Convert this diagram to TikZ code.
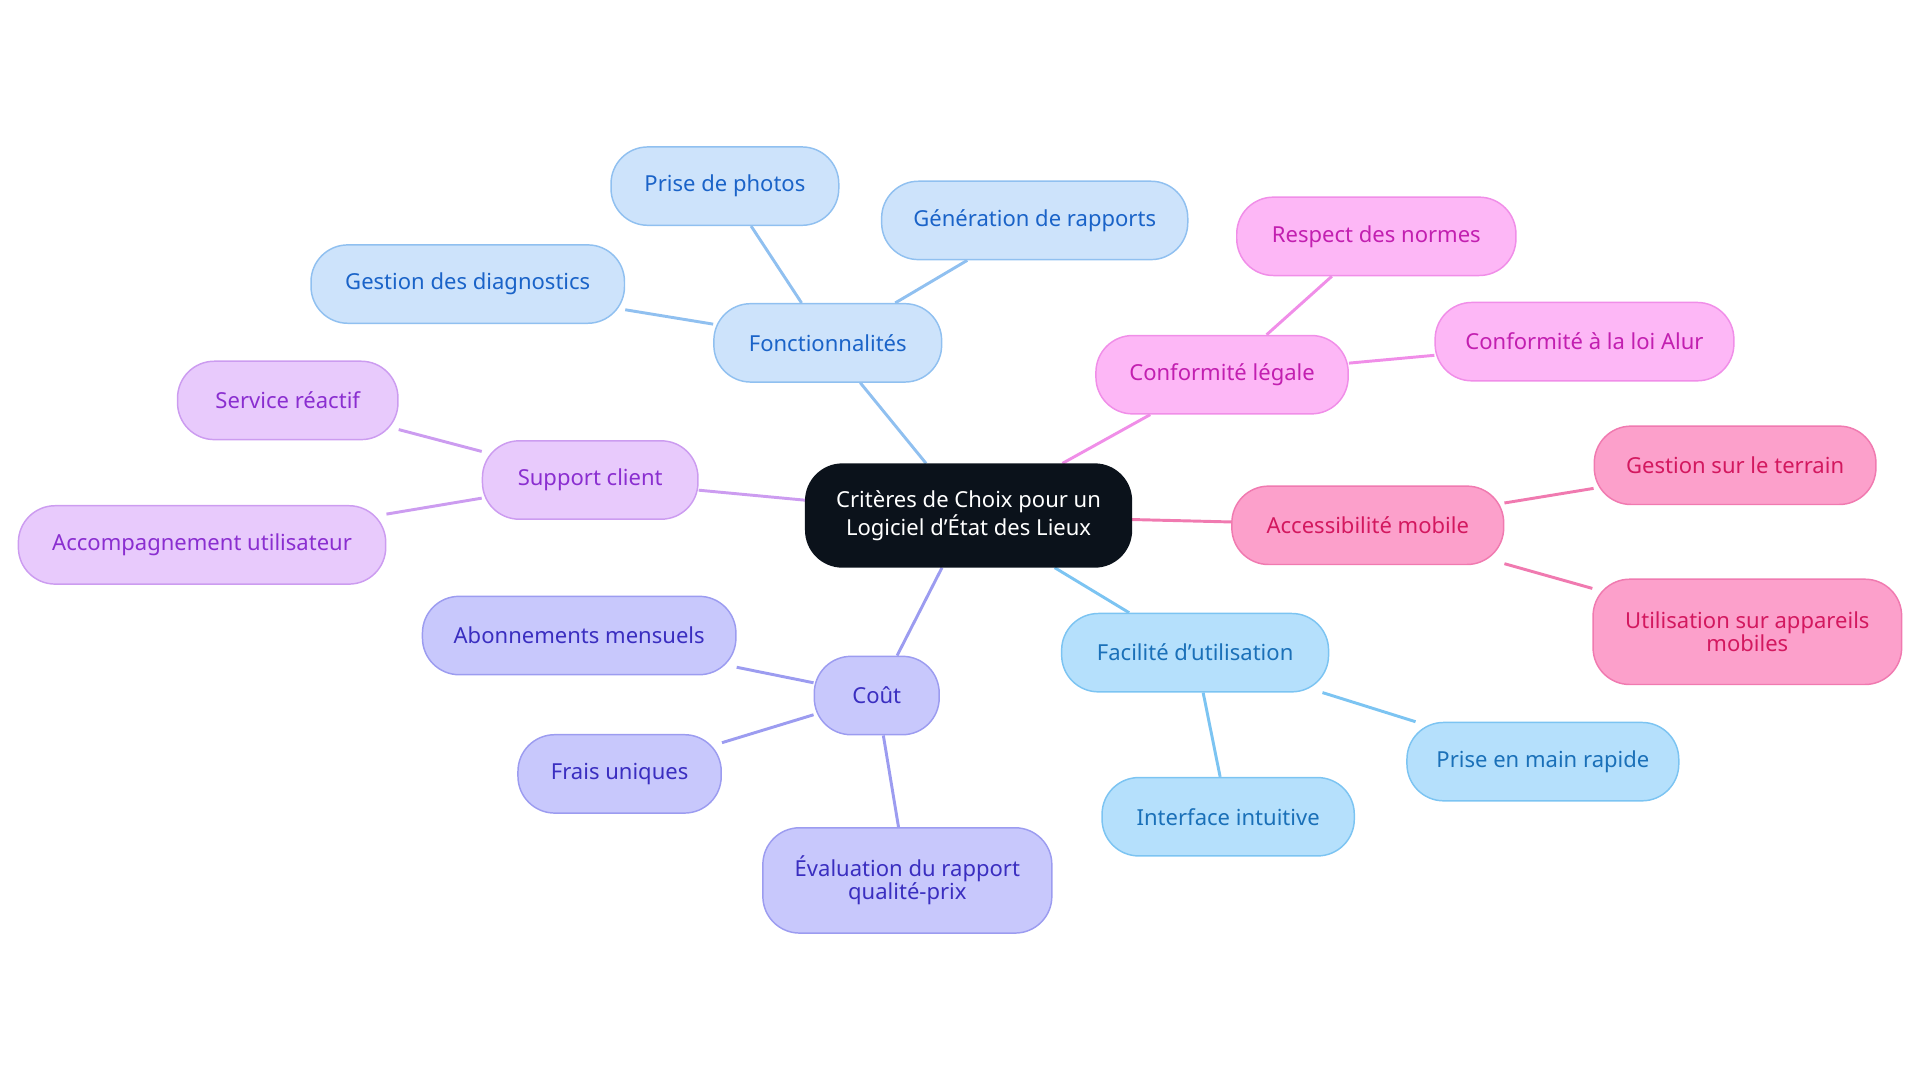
\documentclass[tikz,border=0pt]{standalone}
\usepackage{fontspec}
\setmainfont{Noto Sans}
\usetikzlibrary{backgrounds}
\definecolor{bF}{HTML}{CDE3FB}\definecolor{sF}{HTML}{90C0F0}\definecolor{tF}{HTML}{1A63C8}
\definecolor{bC}{HTML}{FDB7F6}\definecolor{sC}{HTML}{F08EE8}\definecolor{tC}{HTML}{C21FB0}
\definecolor{bA}{HTML}{FCA0CB}\definecolor{sA}{HTML}{F07AB0}\definecolor{tA}{HTML}{D3185F}
\definecolor{bU}{HTML}{B5E0FC}\definecolor{sU}{HTML}{7CC4F2}\definecolor{tU}{HTML}{1A70B8}
\definecolor{bK}{HTML}{C8C8FC}\definecolor{sK}{HTML}{9C9CF0}\definecolor{tK}{HTML}{3A2EC0}
\definecolor{bS}{HTML}{E8CAFC}\definecolor{sS}{HTML}{CC9CF0}\definecolor{tS}{HTML}{8A2ED0}
\definecolor{dark}{HTML}{0B121B}
\tikzset{x=0.5pt,y=-0.5pt,
 n/.style={rounded corners=15pt,line width=0.6pt,align=center,font=\fontsize{9}{9.5}\selectfont,inner sep=0pt,minimum height=32pt},
 F/.style={n,fill=bF,draw=sF,text=tF},C/.style={n,fill=bC,draw=sC,text=tC},
 A/.style={n,fill=bA,draw=sA,text=tA},U/.style={n,fill=bU,draw=sU,text=tU},
 K/.style={n,fill=bK,draw=sK,text=tK},S/.style={n,fill=bS,draw=sS,text=tS},
 e/.style={line width=1.2pt}}
\begin{document}
\begin{tikzpicture}
\useasboundingbox (0,0) rectangle (1568,884);
\node[n,fill=dark,draw=dark,text=white,minimum width=133pt,minimum height=42pt] (c) at (791,421) {Critères de Choix pour un\\Logiciel d'État des Lieux};
\node[F,minimum width=93pt] (f) at (676,280) {Fonctionnalités};
\node[F,minimum width=93pt] (f1) at (592,152) {Prise de photos};
\node[F,minimum width=125pt] (f2) at (845,180) {Génération de rapports};
\node[F,minimum width=128pt] (f3) at (382,232) {Gestion des diagnostics};
\node[C,minimum width=103pt] (l) at (998,306) {Conformité légale};
\node[C,minimum width=114pt] (l1) at (1124,193) {Respect des normes};
\node[C,minimum width=122pt] (l2) at (1294,279) {Conformité à la loi Alur};
\node[A,minimum width=111pt] (a) at (1117,429) {Accessibilité mobile};
\node[A,minimum width=115pt] (a1) at (1417,380) {Gestion sur le terrain};
\node[A,minimum width=126pt,minimum height=43pt] (a2) at (1427,516) {Utilisation sur appareils\\mobiles};
\node[U,minimum width=109pt] (u) at (976,533) {Facilité d'utilisation};
\node[U,minimum width=111pt] (u1) at (1260,622) {Prise en main rapide};
\node[U,minimum width=103pt] (u2) at (1003,667) {Interface intuitive};
\node[K,minimum width=51pt] (k) at (716,568) {Coût};
\node[K,minimum width=128pt] (k1) at (473,519) {Abonnements mensuels};
\node[K,minimum width=83pt] (k2) at (506,632) {Frais uniques};
\node[K,minimum width=118pt,minimum height=43pt] (k3) at (741,719) {Évaluation du rapport\\qualité-prix};
\node[S,minimum width=88pt] (s) at (482,392) {Support client};
\node[S,minimum width=90pt] (s1) at (235,327) {Service réactif};
\node[S,minimum width=150pt] (s2) at (165,445) {Accompagnement utilisateur};
\begin{scope}[on background layer]
\draw[e,draw=sF] (c)--(f) (f)--(f1) (f)--(f2) (f)--(f3);
\draw[e,draw=sC] (c)--(l) (l)--(l1) (l)--(l2);
\draw[e,draw=sA] (c)--(a) (a)--(a1) (a)--(a2);
\draw[e,draw=sU] (c)--(u) (u)--(u1) (u)--(u2);
\draw[e,draw=sK] (c)--(k) (k)--(k1) (k)--(k2) (k)--(k3);
\draw[e,draw=sS] (c)--(s) (s)--(s1) (s)--(s2);
\end{scope}
\end{tikzpicture}
\end{document}
